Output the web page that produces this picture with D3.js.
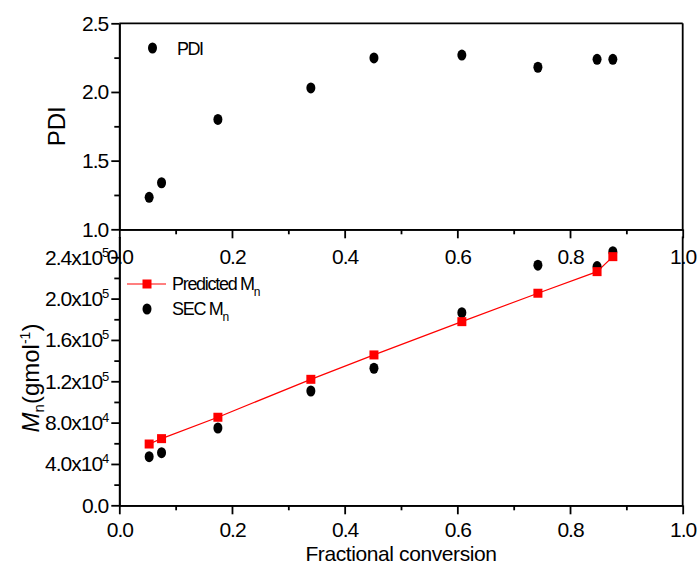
<!DOCTYPE html>
<html>
<head>
<meta charset="utf-8">
<script src="https://cdn.jsdelivr.net/npm/d3@7"></script>
<style>
  html, body { margin: 0; padding: 0; background: #fff; }
  svg { display: block; font-family: "Liberation Sans", Arial, sans-serif; }
  .axis path, .axis line { stroke: #000; stroke-width: 1.8; }
  .axis text { font-size: 21px; fill: #000; letter-spacing: -1px; font-family: "Liberation Sans", Arial, sans-serif; }
</style>
</head>
<body>
<svg id="chart" width="699" height="567"></svg>
<script>
// ---- data ----
const conversion   = [0.053, 0.075, 0.175, 0.340, 0.452, 0.608, 0.743, 0.848, 0.876];
const pdi          = [1.233, 1.339, 1.80, 2.029, 2.248, 2.269, 2.18, 2.238, 2.238];
const predictedMn  = [59300, 64500, 85200, 121900, 145500, 177700, 205200, 226100, 240600];
const secMn        = [47000, 50900, 74800, 110600, 132600, 186400, 232300, 231000, 245400];

const xTicks       = [0, 0.2, 0.4, 0.6, 0.8, 1.0];
const xMinorTicks  = [0.1, 0.3, 0.5, 0.7, 0.9];
const pdiTicks     = [1.0, 1.5, 2.0, 2.5];
const pdiMinor     = [1.25, 1.75, 2.25];
const mnTicks      = [0, 40000, 80000, 120000, 160000, 200000, 240000];
const mnMinor      = [20000, 60000, 100000, 140000, 180000, 220000];

// ---- layout ----
const svg = d3.select("#chart");
const left = 119.3, right = 682.7;
const topT = 23.3, topB = 229.3;
const botT = 236.6, botB = 505.3;

const x = d3.scaleLinear().domain([0, 1]).range([left, right]);
const yTop = d3.scaleLinear().domain([1, 2.5]).range([topB, topT]);
const yBot = d3.scaleLinear().domain([0, 260000]).range([botB, botT]);

const fmt1 = d3.format(".1f");

// ===== Top panel =====
// frame lines (top & right)
svg.append("line").attr("x1", left).attr("x2", right).attr("y1", topT).attr("y2", topT)
  .attr("stroke", "#000").attr("stroke-width", 1.8);
svg.append("line").attr("x1", right).attr("x2", right).attr("y1", topT).attr("y2", topB)
  .attr("stroke", "#000").attr("stroke-width", 1.8);

svg.append("g").attr("class", "axis").attr("transform", `translate(${left},0)`)
  .call(d3.axisLeft(yTop).tickValues(pdiMinor).tickSize(5).tickSizeOuter(0).tickFormat(""));
svg.append("g").attr("class", "axis").attr("transform", `translate(${left},0)`)
  .call(d3.axisLeft(yTop).tickValues(pdiTicks).tickSize(8).tickSizeOuter(0).tickPadding(3).tickFormat(fmt1));

svg.append("g").attr("class", "axis").attr("transform", `translate(0,${topB})`)
  .call(d3.axisBottom(x).tickValues(xMinorTicks).tickSize(5).tickSizeOuter(0).tickFormat(""));
svg.append("g").attr("class", "axis").attr("transform", `translate(0,${topB})`)
  .call(d3.axisBottom(x).tickValues(xTicks).tickSize(9).tickSizeOuter(0).tickPadding(11).tickFormat(fmt1));

// PDI points
svg.append("g").selectAll("ellipse").data(conversion).join("ellipse")
  .attr("cx", (d) => x(d)).attr("cy", (d, i) => yTop(pdi[i]))
  .attr("rx", 4.5).attr("ry", 5.5).attr("fill", "#000");

// PDI axis title
svg.append("text").attr("transform", `translate(65,${(topT + topB) / 2}) rotate(-90)`)
  .attr("text-anchor", "middle").attr("font-size", 24).text("PDI");

// PDI legend
svg.append("ellipse").attr("cx", 152.5).attr("cy", 48).attr("rx", 4.5).attr("ry", 5.5).attr("fill", "#000");
svg.append("text").attr("x", 177).attr("y", 55).attr("font-size", 18)
  .style("letter-spacing", "-1.5px").text("PDI");

// ===== Bottom panel =====
svg.append("line").attr("x1", right).attr("x2", right).attr("y1", botT).attr("y2", botB)
  .attr("stroke", "#000").attr("stroke-width", 1.8);

svg.append("g").attr("class", "axis").attr("transform", `translate(${left},0)`)
  .call(d3.axisLeft(yBot).tickValues(mnMinor).tickSize(5).tickSizeOuter(0).tickFormat(""));
const yAxB = svg.append("g").attr("class", "axis").attr("transform", `translate(${left},0)`)
  .call(d3.axisLeft(yBot).tickValues(mnTicks).tickSize(8).tickSizeOuter(0).tickPadding(3).tickFormat(""));
yAxB.selectAll(".tick text").each(function (d) {
  const t = d3.select(this);
  if (d === 0) { t.text("0.0"); return; }
  const e = Math.floor(Math.log10(d));
  const m = d / Math.pow(10, e);
  t.append("tspan").text(m.toFixed(1) + "x10");
  t.append("tspan").attr("dy", -8).attr("font-size", 13).text(e);
});

svg.append("g").attr("class", "axis").attr("transform", `translate(0,${botB})`)
  .call(d3.axisBottom(x).tickValues(xMinorTicks).tickSize(5).tickSizeOuter(0).tickFormat(""));
svg.append("g").attr("class", "axis").attr("transform", `translate(0,${botB})`)
  .call(d3.axisBottom(x).tickValues(xTicks).tickSize(9).tickSizeOuter(0).tickPadding(8).tickFormat(fmt1));

// predicted line
const line = d3.line().x((d) => x(d[0])).y((d) => yBot(d[1]));
svg.append("path").datum(conversion.map((c, i) => [c, predictedMn[i]]))
  .attr("d", line).attr("fill", "none").attr("stroke", "#ff0000").attr("stroke-width", 1.2);

// SEC points
svg.append("g").selectAll("ellipse").data(conversion).join("ellipse")
  .attr("cx", (d) => x(d)).attr("cy", (d, i) => yBot(secMn[i]))
  .attr("rx", 4.5).attr("ry", 5.5).attr("fill", "#000");

// predicted squares
svg.append("g").selectAll("rect").data(conversion).join("rect")
  .attr("x", (d) => x(d) - 4.5).attr("y", (d, i) => yBot(predictedMn[i]) - 4.5)
  .attr("width", 9).attr("height", 9).attr("fill", "#ff0000");

// Mn axis title
const mt = svg.append("text").attr("transform", `translate(39,378) rotate(-90)`)
  .attr("text-anchor", "middle").attr("font-size", 24);
mt.append("tspan").attr("font-style", "italic").text("M");
mt.append("tspan").attr("font-size", 15).attr("dy", 5).text("n");
mt.append("tspan").attr("dy", -5).text("(gmol");
mt.append("tspan").attr("font-size", 14).attr("dy", -9).text("-1");
mt.append("tspan").attr("dy", 9).text(")");

// bottom legend
svg.append("line").attr("x1", 127).attr("x2", 166).attr("y1", 284).attr("y2", 284)
  .attr("stroke", "#ff0000").attr("stroke-width", 1.2);
svg.append("rect").attr("x", 142.5).attr("y", 279.5).attr("width", 9).attr("height", 9).attr("fill", "#ff0000");
const l1 = svg.append("text").attr("x", 172).attr("y", 290).attr("font-size", 18).style("letter-spacing", "-1.3px");
l1.append("tspan").text("Predicted M");
l1.append("tspan").attr("font-size", 12).attr("dy", 6).text("n");

svg.append("ellipse").attr("cx", 147).attr("cy", 309).attr("rx", 4.5).attr("ry", 5.5).attr("fill", "#000");
const l2 = svg.append("text").attr("x", 172).attr("y", 315).attr("font-size", 18).style("letter-spacing", "-1.3px");
l2.append("tspan").text("SEC M");
l2.append("tspan").attr("font-size", 12).attr("dy", 6).text("n");

// x axis title
svg.append("text").attr("x", 401).attr("y", 561).attr("text-anchor", "middle")
  .attr("font-size", 21).style("letter-spacing", "-0.4px").text("Fractional conversion");
</script>
</body>
</html>
